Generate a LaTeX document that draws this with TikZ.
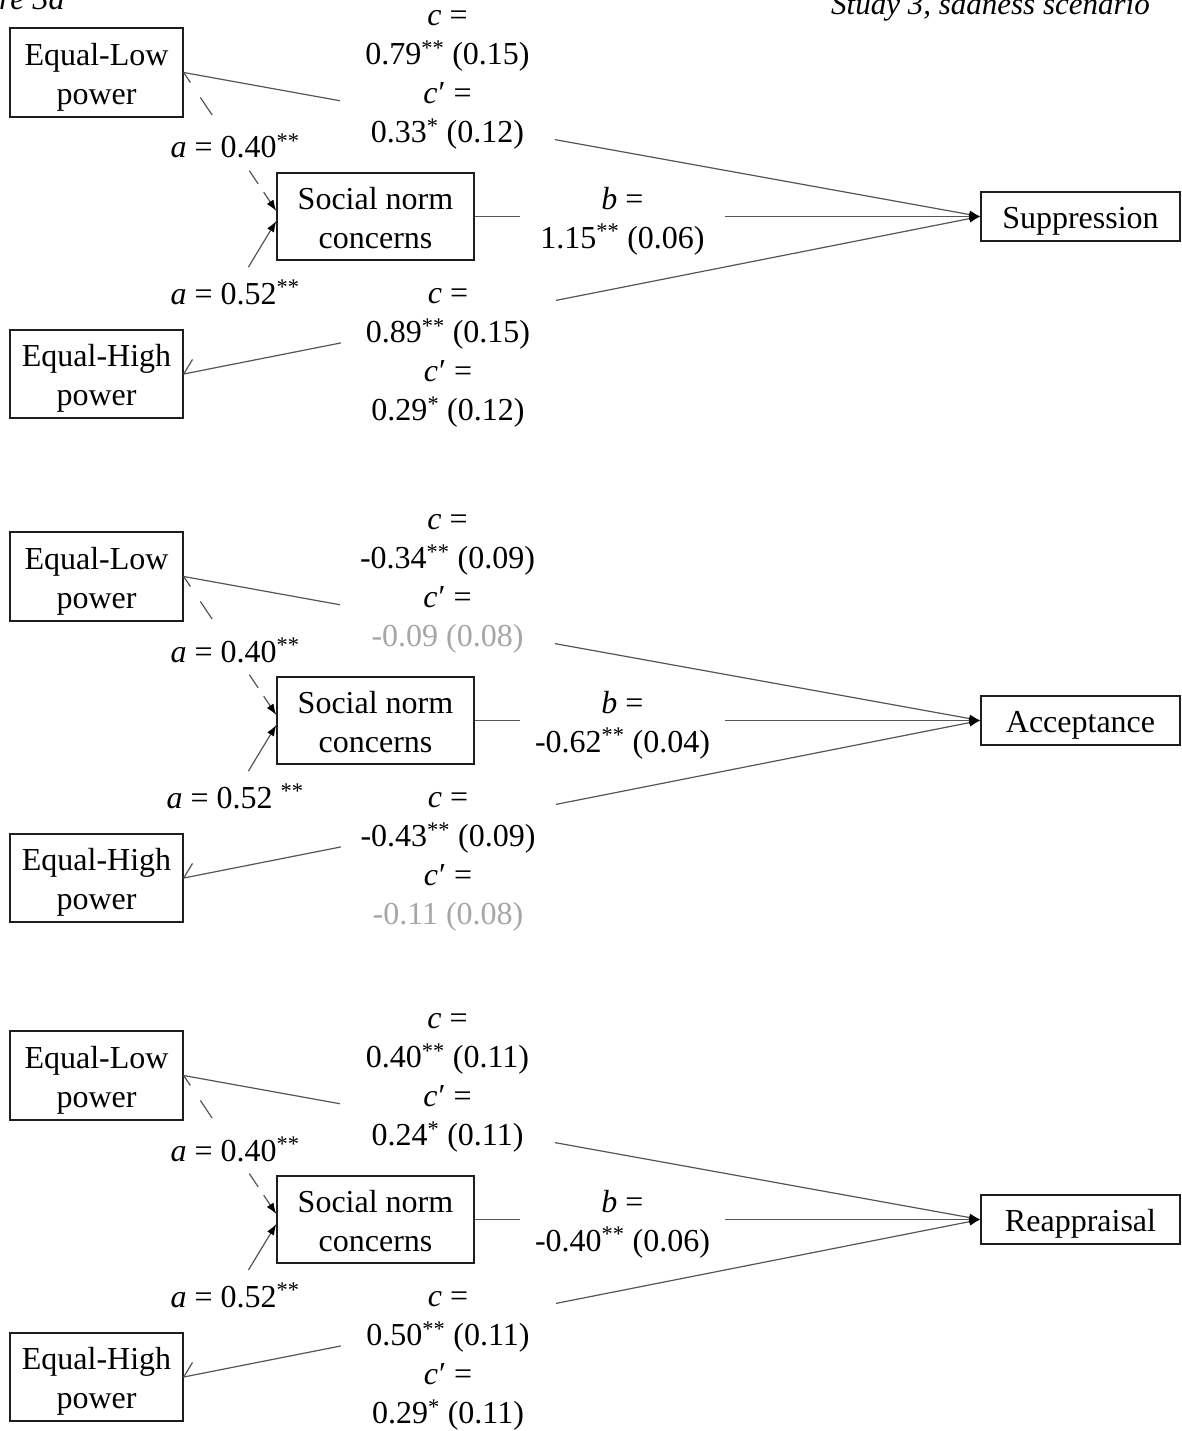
\documentclass[tikz,border=0pt]{standalone}
\usepackage{fontspec}
\setmainfont{Liberation Serif}
\usetikzlibrary{arrows.meta}
\definecolor{linegray}{HTML}{555555}
\definecolor{nsgray}{HTML}{A6A6A6}
\definecolor{boxline}{HTML}{1E1E1E}
\newcommand\sig[1]{\textsuperscript{#1}}
\newcommand\cp{\textit{c}\kern1pt′}
% one mediation model: predictors, mediator, outcome and the path coefficients
% #1 suffix, #2 vertical offset, #3 outcome, #4 c (top), #5 c' (top), #6 b,
% #7 a (bottom), #8 c (bottom), #9 c' (bottom)
\newcommand\mediationpanel[9]{%
  \begin{scope}[shift={(0,#2)}]
    \node[varbox, minimum width=173pt, minimum height=89pt] (low#1) at (96.5,72.5) {\rule{0pt}{31pt}Equal-Low\\power};
    \node[varbox, minimum width=173pt, minimum height=88pt] (high#1) at (96.5,374) {\rule{0pt}{31pt}Equal-High\\power};
    \node[varbox, minimum width=197pt, minimum height=87pt] (snc#1) at (375.5,216.5) {\rule{0pt}{26pt}Social norm\\concerns};
    \node[varbox, minimum width=199pt, minimum height=49pt] (out#1) at (1080.5,216.5) {\rule{0pt}{30pt}#3};
    % direct and b paths
    \draw[conn, tip] (low#1.east) -- (out#1.west);
    \draw[conn, tip] (high#1.east) -- (out#1.west);
    \draw[conn, tip] (snc#1.east) -- (out#1.west);
    % a paths
    \draw[conn, tip, dash pattern=on 12pt off 18pt on 21pt off 67pt on 16pt off 10pt on 40pt]
      (low#1.east) -- ([yshift=5.5pt]snc#1.west);
    \draw[conn, tip, dash pattern=on 17pt off 108pt on 80pt]
      (high#1.east) -- ([yshift=-4.5pt]snc#1.west);
    % coefficients
    \node[cblock] (cup#1) at (447.5,76.5) {\strut\textit{c} =\\#4\\\cp\ =\\#5\strut};
    \node[cblock] (clow#1) at (448,354.2) {\strut\textit{c} =\\#8\\\cp\ =\\#9\strut};
    \node[bblock] (bcoef#1) at (622.5,220.7) {\strut\textit{b} =\\#6\strut};
    \node[acoef] (aup#1) at (235,158) {\textit{a} = 0.40\sig{**}};
    \node[acoef] (alow#1) at (235,304) {\textit{a} = #7};
  \end{scope}}

\begin{document}
\begin{tikzpicture}[x=1pt,y=-1pt,
  every node/.style={font=\fontsize{32}{39}\selectfont},
  varbox/.style={draw=boxline, line width=1.4pt, fill=white, align=center, inner sep=0pt},
  cblock/.style={fill=white, align=center, minimum width=215pt, inner xsep=0pt, inner ysep=1pt},
  bblock/.style={fill=white, align=center, minimum width=205pt, inner xsep=0pt, inner ysep=1pt},
  acoef/.style={fill=white, anchor=base, inner sep=2pt},
  conn/.style={draw=linegray, line width=1.2pt},
  tip/.style={-{Latex[length=11pt,width=8pt,color=black]}},
]
\clip (0,0) rectangle (1181,1431);
\fill[white] (0,0) rectangle (1181,1431);

\mediationpanel{1}{0}{Suppression}{0.79\sig{**} (0.15)}{0.33\sig{*} (0.12)}{1.15\sig{**} (0.06)}{0.52\sig{**}}{0.89\sig{**} (0.15)}{0.29\sig{*} (0.12)}
\mediationpanel{2}{504}{Acceptance}{-0.34\sig{**} (0.09)}{\textcolor{nsgray}{-0.09 (0.08)}}{-0.62\sig{**} (0.04)}{0.52 \sig{**}}{-0.43\sig{**} (0.09)}{\textcolor{nsgray}{-0.11 (0.08)}}
\mediationpanel{3}{1003}{Reappraisal}{0.40\sig{**} (0.11)}{0.24\sig{*} (0.11)}{-0.40\sig{**} (0.06)}{0.52\sig{**}}{0.50\sig{**} (0.11)}{0.29\sig{*} (0.11)}

% headings along the top edge
\node[anchor=base west, inner sep=0pt, font=\fontsize{32}{39}\selectfont\itshape] (figtag) at (-1,10) {re 3a};
\node[anchor=base east, inner sep=0pt, font=\fontsize{31}{39}\selectfont\itshape] (studytag) at (1150,15) {Study 3, sadness scenario};
\end{tikzpicture}
\end{document}
